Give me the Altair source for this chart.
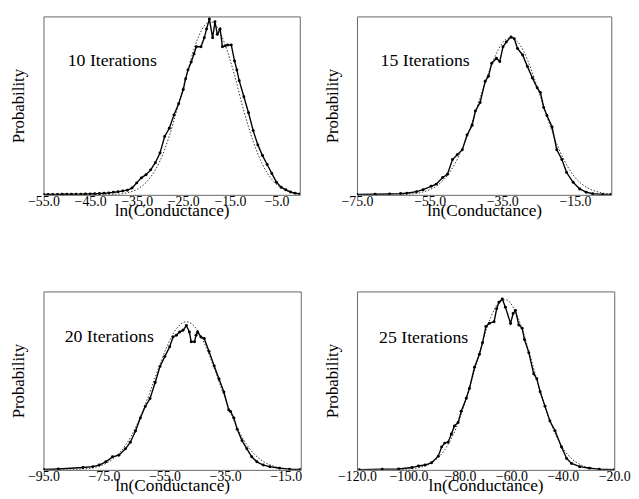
import altair as alt
import pandas as pd

FONT = "Liberation Serif"

# ---------------- Panel 1: 10 iterations ----------------
P1_SOLID_X = [-55, -54, -53, -52, -51, -50, -49, -48, -47, -46, -45, -44, -43, -42, -41,
              -40, -39, -38, -37, -36, -35, -34, -33, -32, -31, -30, -29, -28, -27, -26,
              -25, -24.5, -24, -23.3, -22.7, -22.2, -21.2, -20.5, -20, -19.4, -18.7, -18.2,
              -17.7, -17.1, -16.6, -16, -15.5, -14.7, -14, -13.5, -13, -12, -11, -10, -9,
              -8, -7, -6, -5, -4, -3, -2, -1, 0]
P1_SOLID_Y = [0.002, 0.002, 0.002, 0.002, 0.003, 0.003, 0.003, 0.004, 0.004, 0.005, 0.005, 0.006, 0.007, 0.009, 0.011,
              0.014, 0.017, 0.022, 0.026, 0.038, 0.067, 0.095, 0.113, 0.14, 0.18, 0.234, 0.327, 0.373, 0.447, 0.51,
              0.59, 0.65, 0.70, 0.744, 0.79, 0.83, 0.83, 0.88, 0.93, 0.985, 0.88, 0.97,
              0.90, 0.93, 0.83, 0.835, 0.84, 0.84, 0.75, 0.70, 0.64, 0.55, 0.46, 0.36, 0.28,
              0.22, 0.17, 0.12, 0.07, 0.043, 0.028, 0.016, 0.009, 0.005]
P1_FIT_X = [-55, -50, -45, -42, -40, -38, -36, -34, -32, -30, -28, -26, -24, -22, -20, -19,
            -18, -16, -14, -12, -10, -8, -6, -4, -2, 0]
P1_FIT_Y = [0.0, 0.0, 0.0005, 0.001, 0.002, 0.007, 0.019, 0.046, 0.10, 0.19, 0.33, 0.51, 0.70, 0.87, 0.96, 0.97,
            0.95, 0.84, 0.67, 0.47, 0.30, 0.17, 0.086, 0.039, 0.016, 0.006]

# ---------------- Panel 2: 15 iterations ----------------
P2_SOLID_X = [-75, -70, -66, -63, -61.3, -58.6, -56.8, -54.6, -53.2, -51.4, -50.1, -48.7, -47.4, -46.0,
              -44.7, -43.3, -42.4, -41.1, -39.7, -38.8, -37.9, -36.6, -35.7, -34.8, -33.9, -32.6, -31.7,
              -30.8, -29.4, -28.1, -26.7, -25.4, -24.5, -23.6, -22.7, -21.3, -20.0, -18.6, -17.3, -15.5,
              -13.7, -11.9, -10.1, -7.4, -5]
P2_SOLID_Y = [0.002, 0.003, 0.005, 0.007, 0.009, 0.018, 0.029, 0.048, 0.06, 0.097, 0.115, 0.198, 0.225, 0.253,
              0.335, 0.39, 0.47, 0.518, 0.637, 0.665, 0.738, 0.766, 0.747, 0.83, 0.857, 0.885, 0.875,
              0.82, 0.784, 0.72, 0.655, 0.60, 0.573, 0.49, 0.445, 0.38, 0.253, 0.198, 0.125, 0.07,
              0.033, 0.015, 0.006, 0.002, 0.002]
P2_FIT_X = [-75, -69, -65, -61, -57, -55, -53, -51, -49, -47, -45, -43, -41, -39, -37, -35, -33, -31,
            -29, -27, -25, -23, -21, -19, -17, -15, -13, -11, -9, -7, -5]
P2_FIT_Y = [0.0, 0.0, 0.001, 0.0035, 0.015, 0.029, 0.051, 0.088, 0.141, 0.216, 0.31, 0.425, 0.55, 0.67,
            0.776, 0.85, 0.88, 0.862, 0.80, 0.70, 0.58, 0.456, 0.339, 0.237, 0.158, 0.099, 0.059, 0.033,
            0.018, 0.009, 0.004]

# ---------------- Panel 3: 20 iterations ----------------
P3_SOLID_X = [-95, -90.1, -82.0, -78.7, -76.6, -74.4, -72.2, -70.1, -67.9, -66.3, -64.6, -63.0, -61.4,
              -59.8, -58.1, -56.5, -54.9, -53.3, -52.2, -51.1, -50.0, -48.9, -47.8, -46.8, -46.2, -45.1,
              -44.6, -44.1, -43.0, -41.9, -40.3, -38.6, -37.0, -35.4, -33.8, -33.2, -32.1, -31.0, -29.4,
              -27.8, -26.2, -24.5, -22.4, -20.2, -17.0, -13.7, -10.1]
P3_SOLID_Y = [0.002, 0.005, 0.013, 0.018, 0.027, 0.045, 0.073, 0.082, 0.118, 0.155, 0.218, 0.291, 0.355,
              0.40, 0.49, 0.58, 0.636, 0.69, 0.745, 0.755, 0.773, 0.782, 0.809, 0.773, 0.718, 0.718,
              0.755, 0.773, 0.745, 0.736, 0.664, 0.582, 0.509, 0.436, 0.336, 0.327, 0.291, 0.227, 0.164,
              0.118, 0.073, 0.045, 0.027, 0.018, 0.009, 0.004, 0.002]
P3_FIT_X = [-95, -90, -86, -82, -78, -76, -74, -72, -70, -68, -66, -64, -62, -60, -58, -56, -54, -52,
            -50, -48, -46, -44, -42, -40, -38, -36, -34, -32, -30, -28, -26, -24, -22, -20, -18, -16,
            -14, -12, -10]
P3_FIT_Y = [0.0, 0.0, 0.001, 0.005, 0.014, 0.024, 0.039, 0.061, 0.093, 0.136, 0.19, 0.259, 0.339, 0.428,
            0.523, 0.616, 0.70, 0.768, 0.812, 0.83, 0.818, 0.778, 0.715, 0.634, 0.542, 0.447, 0.356,
            0.274, 0.203, 0.145, 0.10, 0.067, 0.043, 0.027, 0.016, 0.009, 0.005, 0.003, 0.002]

# ---------------- Panel 4: 25 iterations ----------------
P4_SOLID_X = [-119.1, -110.2, -103.8, -98.6, -96.1, -93.5, -91.0, -88.4, -87.1, -85.9, -84.6, -83.3,
              -82.1, -80.7, -79.5, -77.5, -76.3, -74.3, -72.4, -71.2, -69.9, -68.6, -66.7, -65.7, -64.8,
              -63.5, -62.3, -60.3, -59.3, -58.4, -57.1, -55.8, -54.9, -53.2, -51.3, -50.1, -48.8, -46.9,
              -45.0, -43.0, -40.5, -38.5, -36.6, -33.4, -29.6, -25.8, -20]
P4_SOLID_Y = [0.001, 0.004, 0.005, 0.013, 0.022, 0.027, 0.04, 0.077, 0.128, 0.15, 0.155, 0.201,
              0.246, 0.265, 0.328, 0.401, 0.456, 0.575, 0.648, 0.712, 0.803, 0.821, 0.83, 0.903, 0.94,
              0.958, 0.912, 0.821, 0.876, 0.894, 0.812, 0.794, 0.73, 0.657, 0.538, 0.511, 0.438, 0.356,
              0.274, 0.219, 0.128, 0.064, 0.036, 0.018, 0.009, 0.004, 0.001]
P4_FIT_X = [-110, -107, -104, -101, -98, -95, -92, -89, -86, -83, -80, -77, -74, -71, -68, -65, -62,
            -59, -56, -53, -50, -47, -44, -41, -38, -35, -32, -29, -26, -23, -20]
P4_FIT_Y = [0.0, 0.0, 0.001, 0.003, 0.007, 0.015, 0.031, 0.06, 0.11, 0.185, 0.29, 0.423, 0.574, 0.726,
            0.854, 0.935, 0.953, 0.904, 0.798, 0.656, 0.502, 0.358, 0.237, 0.146, 0.084, 0.045, 0.022,
            0.01, 0.004, 0.002, 0.001]

# panel settings: x domain, tick values, label text and label anchor (data units)
DOMAINS = [[-55, 0], [-75, -5], [-95, -10], [-120, -20]]
TICKS = [[-55, -45, -35, -25, -15, -5], [-75, -55, -35, -15],
         [-95, -75, -55, -35, -15], [-120, -100, -80, -60, -40, -20]]
LABELS = ["10 Iterations", "15 Iterations", "20 Iterations", "25 Iterations"]
LABEL_X = [-49.8, -68.5, -88.0, -111.4]
LABEL_Y = [0.722, 0.72, 0.715, 0.712]
WIDTHS = [260, 258, 261, 261]


def panel(sx, sy, fx, fy, i):
    xscale = alt.Scale(domain=DOMAINS[i], nice=False, zero=False)
    yscale = alt.Scale(domain=[0, 1], nice=False, zero=True)
    xaxis = alt.Axis(values=TICKS[i], format=".1f", title="ln(Conductance)", grid=False,
                     domain=False, ticks=False, labelFlush=False, labelOverlap=False,
                     labelFont=FONT, labelFontSize=14, labelColor="black", labelPadding=0,
                     titleFont=FONT, titleFontSize=17.5, titleFontWeight="normal",
                     titleColor="black", titlePadding=-7)
    yaxis = alt.Axis(title="Probability", labels=False, ticks=False, domain=False, grid=False,
                     titleFont=FONT, titleFontSize=17, titleFontWeight="normal",
                     titleColor="black", titlePadding=16)
    fit_df = pd.DataFrame({"x": fx, "y": fy})
    solid_df = pd.DataFrame({"x": sx, "y": sy})
    fit = alt.Chart(fit_df).mark_line(
        color="#333333", strokeWidth=1, strokeDash=[1.5, 1.8], interpolate="monotone", clip=True
    ).encode(x=alt.X("x:Q", scale=xscale, axis=xaxis), y=alt.Y("y:Q", scale=yscale, axis=yaxis))
    solid = alt.Chart(solid_df).mark_line(
        color="black", strokeWidth=1.4, clip=True,
        point=alt.OverlayMarkDef(filled=True, size=9, color="black")
    ).encode(x="x:Q", y="y:Q")
    text = alt.Chart(pd.DataFrame({"x": [LABEL_X[i]], "y": [LABEL_Y[i]], "t": [LABELS[i]]})).mark_text(
        align="left", baseline="alphabetic", font=FONT, fontSize=18, color="black"
    ).encode(x="x:Q", y="y:Q", text="t:N")
    return alt.layer(fit, solid, text).properties(width=WIDTHS[i], height=181)


p1 = panel(P1_SOLID_X, P1_SOLID_Y, P1_FIT_X, P1_FIT_Y, 0)
p2 = panel(P2_SOLID_X, P2_SOLID_Y, P2_FIT_X, P2_FIT_Y, 1)
p3 = panel(P3_SOLID_X, P3_SOLID_Y, P3_FIT_X, P3_FIT_Y, 2)
p4 = panel(P4_SOLID_X, P4_SOLID_Y, P4_FIT_X, P4_FIT_Y, 3)

chart = alt.concat(
    p1, p2, p3, p4, columns=2, spacing={"row": 98, "column": 57}, bounds="flush"
).properties(
    padding={"left": 1, "top": 4, "right": 0, "bottom": 0}, background="white"
).configure_view(stroke="#666666", strokeWidth=1)

chart.save("out.html", embed_options={"renderer": "svg", "actions": False})
